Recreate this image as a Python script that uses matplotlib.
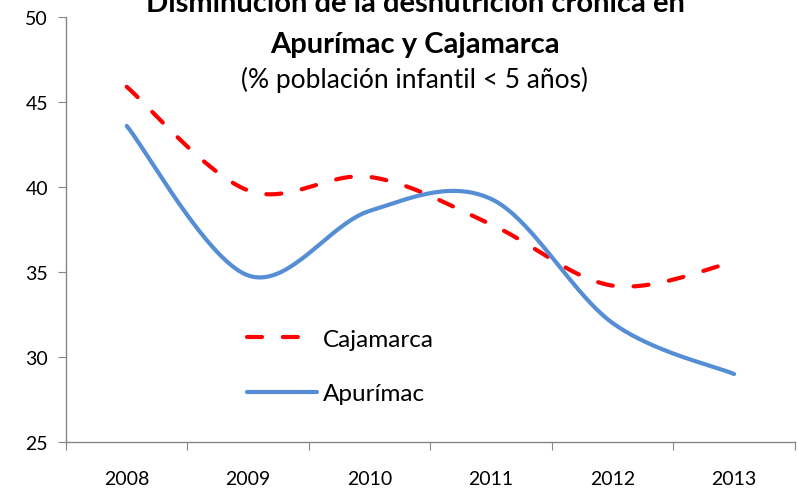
import numpy as np
import matplotlib
matplotlib.use("Agg")
import matplotlib.pyplot as plt
from matplotlib.ticker import FixedLocator, NullFormatter

years = ["2008", "2009", "2010", "2011", "2012", "2013"]
cajamarca = [45.9, 39.8, 40.6, 37.8, 34.2, 35.6]
apurimac = [43.6, 34.8, 38.6, 39.3, 32.0, 29.0]
yticks = [25, 30, 35, 40, 45, 50]

plt.rcParams['font.family'] = ['Lato', 'DejaVu Sans']


def smooth(xs, ys, n=40):
    # Excel-like Bezier smoothing (Catmull-Rom control points)
    xs = np.asarray(xs, float)
    ys = np.asarray(ys, float)
    P = np.column_stack([xs, ys])
    out = []
    m = len(P)
    for i in range(m - 1):
        p0 = P[i - 1] if i > 0 else P[i]
        p1 = P[i]
        p2 = P[i + 1]
        p3 = P[i + 2] if i + 2 < m else P[i + 1]
        c1 = p1 + (p2 - p0) / 6.0
        c2 = p2 - (p3 - p1) / 6.0
        t = np.linspace(0, 1, n)[:, None]
        seg = ((1 - t) ** 3) * p1 + 3 * ((1 - t) ** 2) * t * c1 + 3 * (1 - t) * t ** 2 * c2 + t ** 3 * p2
        if i > 0:
            seg = seg[1:]
        out.append(seg)
    out = np.vstack(out)
    return out[:, 0], out[:, 1]


fig = plt.figure(figsize=(7.98, 4.89), dpi=100)
ax = fig.add_axes([0.0827, 0.094, 0.9133, 0.869])

x = np.arange(len(years))
cx, cy = smooth(x, cajamarca)
axx, ayy = smooth(x, apurimac)

red = '#FF0000'
blue = '#558ED5'
l1, = ax.plot(cx, cy, color=red, lw=3.0, dashes=(3.6, 5.0), dash_capstyle='round',
              solid_capstyle='round', label='Cajamarca')
l2, = ax.plot(axx, ayy, color=blue, lw=3.0, solid_capstyle='round', label='Apurímac')

ax.set_xlim(-0.5, len(years) - 0.5)
ax.set_ylim(25, 50)
ax.set_yticks(yticks)
ax.set_yticklabels([str(v) for v in yticks])

ax.xaxis.set_major_locator(FixedLocator(np.arange(-0.5, len(years), 1.0)))
ax.xaxis.set_major_formatter(NullFormatter())
ax.xaxis.set_minor_locator(FixedLocator(x))
ax.set_xticklabels(years, minor=True)

grey = '#868686'
for s in ['top', 'right']:
    ax.spines[s].set_visible(False)
for s in ['left', 'bottom']:
    ax.spines[s].set_color(grey)
    ax.spines[s].set_linewidth(1.0)
ax.tick_params(axis='y', which='major', direction='out', length=6, color=grey,
               labelsize=14, pad=7, labelcolor='black')
ax.tick_params(axis='x', which='major', direction='out', length=6, color=grey)
ax.tick_params(axis='x', which='minor', length=0, labelsize=14, pad=20, labelcolor='black')

leg = ax.legend(handles=[l1, l2], loc='center left', bbox_to_anchor=(0.248, 0.178),
                frameon=False, fontsize=17.5, handlelength=2.9, handletextpad=0.25,
                labelspacing=1.39, borderpad=0, borderaxespad=0)

fig.text(0.52, 1.0 - 4 / 489, 'Disminución de la desnutrición crónica en', ha='center', va='center',
         fontsize=21, fontweight='bold')
fig.text(0.52, 1.0 - 45 / 489, 'Apurímac y Cajamarca', ha='center', va='center',
         fontsize=21, fontweight='bold')
fig.text(0.52, 1.0 - 80 / 489, '(% población infantil < 5 años)', ha='center', va='center',
         fontsize=19)

fig.savefig('out.png', dpi=100)
